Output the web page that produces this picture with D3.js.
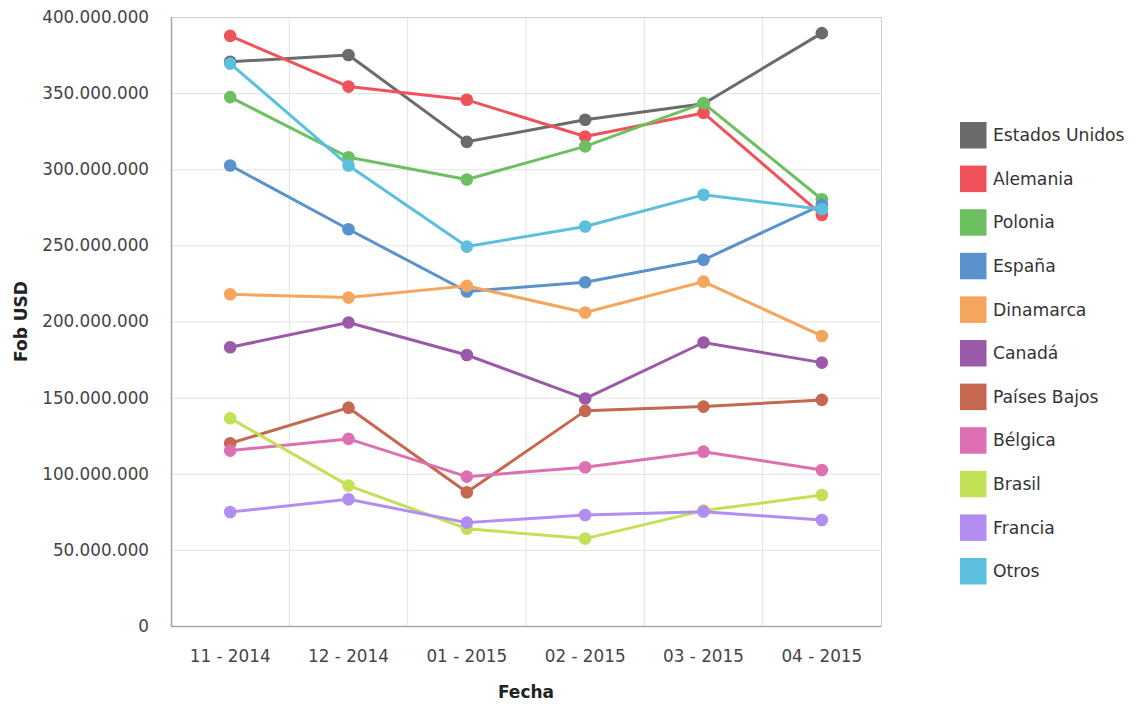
<!DOCTYPE html>
<html>
<head>
<meta charset="utf-8">
<script src="https://cdn.jsdelivr.net/npm/d3@7/dist/d3.min.js"></script>
<style>
  html, body { margin: 0; padding: 0; background: #fff; }
  svg { display: block; }
  text { font-family: "DejaVu Sans", Verdana, sans-serif; }
</style>
</head>
<body>
<svg id="chart" width="1139" height="708"></svg>
<script>
// Monthly FOB exports (USD) by destination
const months = ["11 - 2014", "12 - 2014", "01 - 2015", "02 - 2015", "03 - 2015", "04 - 2015"];
const countries = ["Estados Unidos", "Alemania", "Polonia", "España", "Dinamarca", "Canadá",
                   "Países Bajos", "Bélgica", "Brasil", "Francia", "Otros"];
const colors = ["#6b6b6b", "#f0525b", "#6cc060", "#5a93cc", "#f5a55c", "#9b5aa8",
                "#c6674f", "#dd70b2", "#c2e156", "#b28df2", "#5bbfdd"];

const estadosUnidos = [370600000, 375000000, 318000000, 332500000, 343000000, 389400000];
const alemania      = [387600000, 354300000, 345600000, 321500000, 337000000, 270000000];
const polonia       = [347400000, 307900000, 293300000, 315000000, 343400000, 280300000];
const espana        = [302500000, 260600000, 219700000, 225800000, 240500000, 276600000];
const dinamarca     = [217900000, 215700000, 223400000, 205900000, 226200000, 190500000];
const canada        = [183100000, 199300000, 178000000, 149400000, 186200000, 173000000];
const paisesBajos   = [120000000, 143400000, 87800000, 141300000, 144100000, 148500000];
const belgica       = [115200000, 122900000, 98100000, 104300000, 114500000, 102500000];
const brasil        = [136500000, 92200000, 63900000, 57400000, 75800000, 86000000];
const francia       = [74900000, 83200000, 67900000, 72900000, 75100000, 69600000];
const otros         = [369400000, 302500000, 249200000, 262400000, 283200000, 273800000];

const seriesValues = [estadosUnidos, alemania, polonia, espana, dinamarca, canada,
                      paisesBajos, belgica, brasil, francia, otros];
const yTicks = [0, 50000000, 100000000, 150000000, 200000000, 250000000,
                300000000, 350000000, 400000000];

const series = countries.map((name, i) => ({ name, color: colors[i], values: seriesValues[i] }));

const svg = d3.select("#chart");
const margin = { left: 171, right: 258, top: 17, bottom: 82 };
const W = 1139, H = 708;
const plotW = W - margin.left - margin.right;
const plotH = H - margin.top - margin.bottom;

const x = d3.scaleBand().domain(months).range([0, plotW]).padding(0);
const y = d3.scaleLinear().domain([0, 400000000]).range([plotH, 0]);

const fmt = v => d3.format(",")(v).replace(/,/g, ".");

const g = svg.append("g").attr("transform", `translate(${margin.left},${margin.top})`);

// horizontal grid + y tick labels
const yAxis = d3.axisLeft(y).tickValues(yTicks).tickFormat(fmt).tickSize(-plotW).tickPadding(22);
const yg = g.append("g").call(yAxis);
yg.select(".domain").remove();
yg.selectAll(".tick line").attr("stroke", "#e3e3e3").attr("stroke-width", 1);
yg.selectAll(".tick text").attr("fill", "#444").style("font-size", "16.8px");

// vertical grid at band boundaries
const boundaries = months.slice(1).map(m => x(m));
g.append("g").selectAll("line").data(boundaries).join("line")
  .attr("x1", d => d).attr("x2", d => d)
  .attr("y1", 0).attr("y2", plotH)
  .attr("stroke", "#e3e3e3").attr("stroke-width", 1);

// x tick labels
const xAxis = d3.axisBottom(x).tickSize(0).tickPadding(24);
const xg = g.append("g").attr("transform", `translate(0,${plotH})`).call(xAxis);
xg.select(".domain").remove();
xg.selectAll(".tick text").attr("fill", "#444").style("font-size", "16.8px");

// plot frame
g.append("rect").attr("x", 0.5).attr("y", 0.5).attr("width", plotW).attr("height", plotH)
  .attr("fill", "none").attr("stroke", "#cfcfcf").attr("stroke-width", 1);
g.append("path")
  .attr("d", `M0.5,0 V${plotH + 0.5} H${plotW}`)
  .attr("fill", "none").attr("stroke", "#a8a8a8").attr("stroke-width", 1.6);

// lines and markers
const cx = m => x(m) + x.bandwidth() / 2;
const line = d3.line().x((d, i) => cx(months[i])).y(d => y(d));

const sg = g.append("g").selectAll("g").data(series).join("g");
sg.append("path")
  .attr("d", d => line(d.values))
  .attr("fill", "none").attr("stroke", d => d.color).attr("stroke-width", 3)
  .attr("stroke-linejoin", "round");
sg.selectAll("circle").data(d => d.values.map((v, i) => ({ v, i, c: d.color }))).join("circle")
  .attr("cx", d => cx(months[d.i])).attr("cy", d => y(d.v)).attr("r", 6.3)
  .attr("fill", d => d.c);

// axis titles
svg.append("text")
  .attr("transform", `translate(27,${margin.top + plotH / 2}) rotate(-90)`)
  .attr("text-anchor", "middle").attr("font-weight", "bold")
  .attr("fill", "#222").style("font-size", "17px")
  .text("Fob USD");
svg.append("text")
  .attr("x", margin.left + plotW / 2).attr("y", 698)
  .attr("text-anchor", "middle").attr("font-weight", "bold")
  .attr("fill", "#222").style("font-size", "17px")
  .text("Fecha");

// legend
const legend = svg.append("g").attr("transform", "translate(960,122)");
const item = legend.selectAll("g").data(series).join("g")
  .attr("transform", (d, i) => `translate(0,${i * 43.6})`);
item.append("rect").attr("width", 26.5).attr("height", 26.5).attr("fill", d => d.color);
item.append("text").attr("x", 33).attr("y", 13).attr("dy", "0.36em")
  .attr("fill", "#333").style("font-size", "17.2px")
  .text(d => d.name);
</script>
</body>
</html>
